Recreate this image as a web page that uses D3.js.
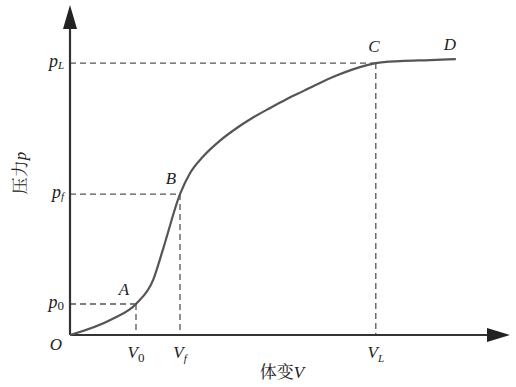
<!DOCTYPE html>
<html>
<head>
<meta charset="utf-8">
<script src="https://d3js.org/d3.v7.min.js"></script>
<style>
    body { margin: 0; background: #fff; }
    svg text { font-family: "Liberation Serif", "DejaVu Serif", serif; fill: #222; }
    .cjk { font-family: "Noto Serif CJK SC", "Noto Sans CJK SC", serif; }
</style>
</head>
<body>
<div id="chart"></div>
<script>
// Curve of pressure p against volume change V (arbitrary units)
const curveV = [0, 0.95, 1.5, 1.89, 2.11, 2.5, 2.73, 3.02, 3.41, 3.8, 4.16, 4.55, 4.93, 5.3, 5.68, 6.07, 6.43, 6.95, 7.5, 8.18, 8.77];
const curveP = [0, 0.48, 0.94, 1.67, 2.58, 4.27, 4.91, 5.4, 5.89, 6.28, 6.59, 6.88, 7.15, 7.39, 7.64, 7.87, 8.05, 8.24, 8.3, 8.33, 8.36];

// Marked points
const pointNames = ['A', 'B', 'C', 'D'];
const pointV = [1.5, 2.5, 6.95, 8.77];
const pointP = [0.94, 4.27, 8.24, 8.36];

// Guides: which points get dashed drop lines, and their tick labels
const guideV = [1.5, 2.5, 6.95];
const guideP = [0.94, 4.27, 8.24];
const vTickLabels = [['V', '0'], ['V', 'f'], ['V', 'L']];
const pTickLabels = [['p', '0'], ['p', 'f'], ['p', 'L']];

const width = 516, height = 387;
const svg = d3.select('#chart').append('svg')
    .attr('width', width)
    .attr('height', height);

const x = d3.scaleLinear().domain([0, 10]).range([70, 510]);
const y = d3.scaleLinear().domain([0, 10]).range([335, 5]);

// dashed guide lines
guideV.forEach((v, i) => {
    const p = guideP[i];
    svg.append('line')
        .attr('x1', x(0)).attr('x2', x(v))
        .attr('y1', y(p)).attr('y2', y(p))
        .attr('stroke', '#555').attr('stroke-width', 1.3)
        .attr('stroke-dasharray', '6,4');
    svg.append('line')
        .attr('x1', x(v)).attr('x2', x(v))
        .attr('y1', y(p)).attr('y2', y(0))
        .attr('stroke', '#555').attr('stroke-width', 1.3)
        .attr('stroke-dasharray', '6,4');
});

// axes with arrows
svg.append('line')
    .attr('x1', x(0)).attr('y1', y(0))
    .attr('x2', x(0)).attr('y2', y(10) + 20)
    .attr('stroke', '#333').attr('stroke-width', 2.2);
svg.append('path')
    .attr('d', `M${x(0)},${y(10)} L${x(0) - 7},${y(10) + 24} L${x(0) + 7},${y(10) + 24} Z`)
    .attr('fill', '#222');
svg.append('line')
    .attr('x1', x(0)).attr('y1', y(0))
    .attr('x2', x(10) - 18).attr('y2', y(0))
    .attr('stroke', '#333').attr('stroke-width', 2.2);
svg.append('path')
    .attr('d', `M${x(10)},${y(0)} L${x(10) - 23},${y(0) - 7} L${x(10) - 23},${y(0) + 7} Z`)
    .attr('fill', '#222');

// curve
const line = d3.line()
    .x(d => x(d[0]))
    .y(d => y(d[1]))
    .curve(d3.curveMonotoneX);
svg.append('path')
    .datum(curveV.map((v, i) => [v, curveP[i]]))
    .attr('d', line)
    .attr('fill', 'none')
    .attr('stroke', '#555')
    .attr('stroke-width', 2.2);

// point labels
const labelOffset = [[-12, -9], [-9, -10], [-2, -11], [-6, -9]];
pointNames.forEach((n, i) => {
    svg.append('text')
        .attr('x', x(pointV[i]) + labelOffset[i][0])
        .attr('y', y(pointP[i]) + labelOffset[i][1])
        .attr('text-anchor', 'middle')
        .style('font-style', 'italic')
        .style('font-size', '17px')
        .text(n);
});

// V tick labels
guideV.forEach((v, i) => {
    const t = svg.append('text')
        .attr('x', x(v))
        .attr('y', y(0) + 23)
        .attr('text-anchor', 'middle')
        .style('font-size', '17px');
    t.append('tspan').style('font-style', 'italic').text(vTickLabels[i][0]);
    t.append('tspan')
        .attr('dy', 4)
        .style('font-size', vTickLabels[i][1] === '0' ? '13px' : '11px')
        .style('font-style', vTickLabels[i][1] === '0' ? 'normal' : 'italic')
        .text(vTickLabels[i][1]);
});

// p tick labels
guideP.forEach((p, i) => {
    const t = svg.append('text')
        .attr('x', x(0) - 6)
        .attr('y', y(p) + 4)
        .attr('text-anchor', 'end')
        .style('font-size', '18px');
    t.append('tspan').style('font-style', 'italic').text(pTickLabels[i][0]);
    t.append('tspan')
        .attr('dy', 2)
        .style('font-size', pTickLabels[i][1] === '0' ? '13px' : '11px')
        .style('font-style', pTickLabels[i][1] === '0' ? 'normal' : 'italic')
        .text(pTickLabels[i][1]);
});

// origin
svg.append('text')
    .attr('x', x(0) - 14)
    .attr('y', y(0) + 15)
    .attr('text-anchor', 'middle')
    .style('font-style', 'italic')
    .style('font-size', '17px')
    .text('O');

// axis titles
const xt = svg.append('text')
    .attr('x', 282)
    .attr('y', 378)
    .attr('text-anchor', 'middle')
    .style('font-size', '17px');
xt.append('tspan').attr('class', 'cjk').text('体变');
xt.append('tspan').style('font-style', 'italic').text('V');

const yt = svg.append('text')
    .attr('transform', 'translate(26,173) rotate(-90)')
    .attr('text-anchor', 'middle')
    .style('font-size', '17px');
yt.append('tspan').attr('class', 'cjk').text('压力');
yt.append('tspan').style('font-style', 'italic').text('p');
</script>
</body>
</html>
